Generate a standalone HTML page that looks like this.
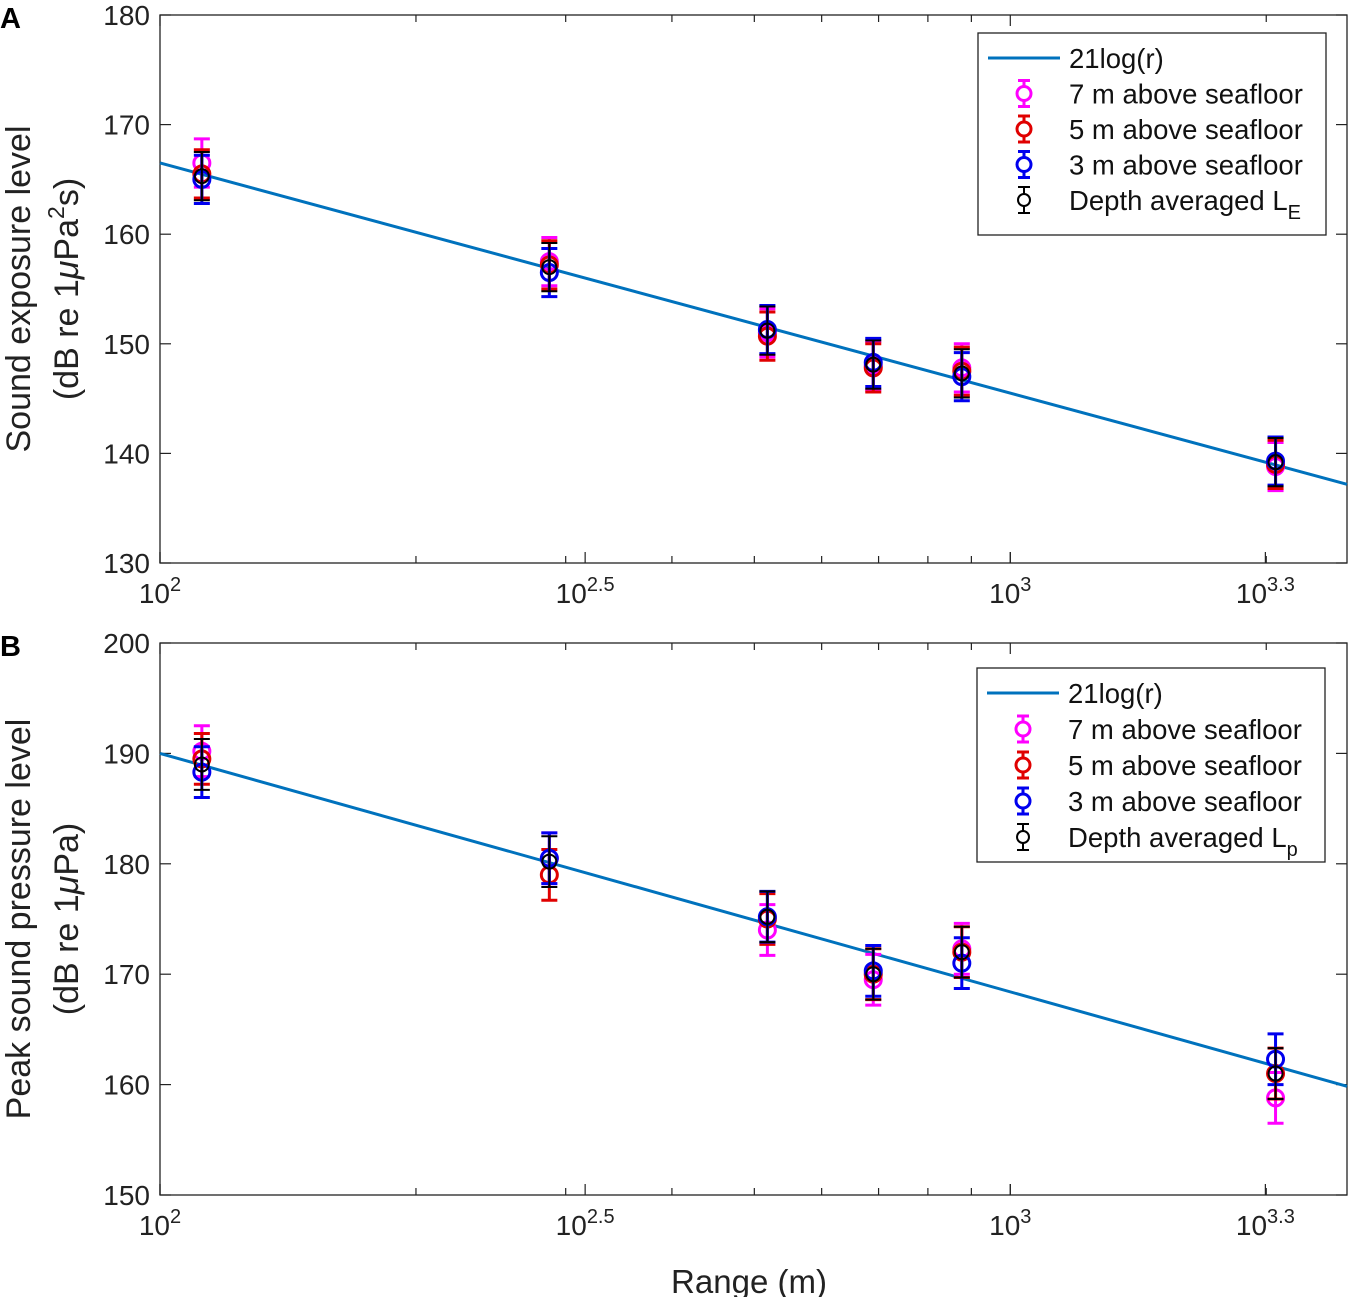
<!DOCTYPE html>
<html><head><meta charset="utf-8"><style>
body{margin:0;background:#fff;}
svg{display:block;font-family:"Liberation Sans",sans-serif;}
</style></head><body>
<svg id="fig" width="1350" height="1297" viewBox="0 0 1350 1297"></svg>
<script>
const rangesM=[112,287,518,690,877,2051];
const seriesNames=['7 m above seafloor','5 m above seafloor','3 m above seafloor'];
const seriesColors=['#ff00ff','#e00000','#0000ee','#000000'];
const aMag=[166.5,157.5,151,148,147.8,138.8];
const aRed=[165.5,157.2,150.7,147.8,147.5,139];
const aBlue=[165,156.5,151.3,148.3,147,139.3];
const aBlack=[165.3,157,151.2,148.1,147.3,139.2];
const bMag=[190.2,180.5,174,169.5,172.3,158.8];
const bRed=[189.5,179,175,170,172,161];
const bBlue=[188.3,180.5,175.2,170.3,171,162.3];
const bBlack=[189,180.2,175.2,170,172,161];
const errA=[2.2,2.2,2.2,2.2,2.2,2.2];
const errB=[2.3,2.3,2.3,2.3,2.3,2.3];
const aTicks=[130,140,150,160,170,180];
const bTicks=[150,160,170,180,190,200];
const xTickExp=['2','2.5','3','3.3'];
const fitA=[208.5,21];
const fitB=[233.2,21.6];
const NS='http://www.w3.org/2000/svg';
const svg=document.getElementById('fig');
function el(t,a,p){const e=document.createElementNS(NS,t);for(const k in a)e.setAttribute(k,a[k]);(p||svg).appendChild(e);return e;}
const X0=160,X1=1347,LMIN=2,LMAX=3.396;
const xs=r=>X0+(Math.log10(r)-LMIN)/(LMAX-LMIN)*(X1-X0);
function panel(cfg){
  const g=el('g',{});
  
  
  const ys=v=>cfg.bot-(v-cfg.ymin)/(cfg.ymax-cfg.ymin)*(cfg.bot-cfg.top);
  for(let d=100;d<=2000;d*=10)for(let m=1;m<10;m++){const r=d*m;if(Math.log10(r)>LMAX)continue;const x=xs(r);const L=(m==1)?11:7;
    el('line',{x1:x,x2:x,y1:cfg.bot,y2:cfg.bot-L,stroke:'#222','stroke-width':1.2},g);
    el('line',{x1:x,x2:x,y1:cfg.top,y2:cfg.top+L,stroke:'#222','stroke-width':1.2},g);}
  xTickExp.forEach(e=>{const x=xs(Math.pow(10,+e));
    const t=el('text',{x:x,y:cfg.bot+40,'text-anchor':'middle','font-size':28,fill:'#222'},g);
    
    t.textContent='10';const s=el('tspan',{dy:-12,'font-size':20},t);s.textContent=e;
    el('line',{x1:x,x2:x,y1:cfg.bot,y2:cfg.bot-11,stroke:'#222','stroke-width':1.2},g);});
  cfg.ticks.forEach(v=>{const y=ys(v);
    el('line',{x1:X0,x2:X0+11,y1:y,y2:y,stroke:'#222','stroke-width':1.2},g);
    el('line',{x1:X1,x2:X1-11,y1:y,y2:y,stroke:'#222','stroke-width':1.2},g);
    const t=el('text',{x:X0-10,y:y+10,'text-anchor':'end','font-size':28,fill:'#222'},g);
    t.textContent=v;});
  el('rect',{x:X0,y:cfg.top,width:X1-X0,height:cfg.bot-cfg.top,fill:'none',stroke:'#222','stroke-width':1.3},g);
  const fl=el('line',{x1:X0,x2:X1,y1:ys(cfg.fit[0]-cfg.fit[1]*LMIN),y2:ys(cfg.fit[0]-cfg.fit[1]*LMAX),stroke:'#0072bd','stroke-width':3},g);
  
  cfg.series.forEach((vals,si)=>{const c=seriesColors[si];const sw=si==3?2:3;const cap=8;
    vals.forEach((v,i)=>{const x=xs(rangesM[i]);const e=cfg.err[i];
      const gg=el('g',{},g);
      
      
      el('line',{x1:x,x2:x,y1:ys(v-e),y2:ys(v+e),stroke:c,'stroke-width':sw},gg);
      el('line',{x1:x-cap,x2:x+cap,y1:ys(v-e),y2:ys(v-e),stroke:c,'stroke-width':sw},gg);
      el('line',{x1:x-cap,x2:x+cap,y1:ys(v+e),y2:ys(v+e),stroke:c,'stroke-width':sw},gg);
      el('circle',{cx:x,cy:ys(v),r:si==3?7:8,fill:'none',stroke:c,'stroke-width':si==3?2:3},gg);});});
  const lg=el('g',{},g);
  el('rect',{x:cfg.lx,y:cfg.ly,width:348,height:cfg.lh,fill:'#fff',stroke:'#222','stroke-width':1.3},lg);
  const labels=['21log(r)',...seriesNames,'Depth averaged L'];
  labels.forEach((lab,i)=>{const y=cfg.ly+25+i*cfg.ls;
    if(i==0)el('line',{x1:cfg.lx+10,x2:cfg.lx+82,y1:y,y2:y,stroke:'#0072bd','stroke-width':3},lg);
    else{const c=seriesColors[i-1];const sw=i==4?2:3;const x=cfg.lx+46;
      el('line',{x1:x,x2:x,y1:y-13,y2:y+13,stroke:c,'stroke-width':sw},lg);
      el('line',{x1:x-6,x2:x+6,y1:y-13,y2:y-13,stroke:c,'stroke-width':sw},lg);
      el('line',{x1:x-6,x2:x+6,y1:y+13,y2:y+13,stroke:c,'stroke-width':sw},lg);
      el('circle',{cx:x,cy:y,r:i==4?6:7,fill:'#fff',stroke:c,'stroke-width':sw},lg);}
    const t=el('text',{x:cfg.lx+91,y:y+10,'font-size':27.5,fill:'#111'},lg);
    
    t.textContent=lab;if(i==4){const s=el('tspan',{dy:9,'font-size':20},t);s.textContent=cfg.sub;}});
  const cy=(cfg.top+cfg.bot)/2;
  const yt=el('text',{transform:`translate(${cfg.ytx},${cy}) rotate(-90)`,'text-anchor':'middle','font-size':34,fill:'#222'},g);
  yt.textContent=cfg.yt1;
  const yt2=el('text',{transform:`translate(${cfg.ytx+48},${cy}) rotate(-90)`,'text-anchor':'middle','font-size':34,fill:'#222'},g);
  
  cfg.yt2(yt2);
  const pl=el('text',{x:0,y:cfg.top+13,'font-size':29,'font-weight':'bold',fill:'#000'},g);
  pl.textContent=cfg.label;
}
panel({name:'panel-a',top:15,bot:563,ymin:130,ymax:180,ticks:aTicks,fit:fitA,series:[aMag,aRed,aBlue,aBlack],err:errA,
 lx:978,ly:33,lh:202,ls:35.5,sub:'E',ytx:30,yt1:'Sound exposure level',label:'A',
 yt2:t=>{t.appendChild(document.createTextNode('(dB re 1'));const m=el('tspan',{'font-style':'italic'},t);m.textContent='\u03bc';
   const p=el('tspan',{},t);p.textContent='Pa';const s=el('tspan',{dy:-14,'font-size':23},t);s.textContent='2';const q=el('tspan',{dy:14},t);q.textContent='s)';}});
panel({name:'panel-b',top:643,bot:1195,ymin:150,ymax:200,ticks:bTicks,fit:fitB,series:[bMag,bRed,bBlue,bBlack],err:errB,
 lx:977,ly:668,lh:194,ls:36,sub:'p',ytx:30,yt1:'Peak sound pressure level',label:'B',
 yt2:t=>{t.appendChild(document.createTextNode('(dB re 1'));const m=el('tspan',{'font-style':'italic'},t);m.textContent='\u03bc';
   const p=el('tspan',{},t);p.textContent='Pa)';}});
const xt=el('text',{x:749,y:1293,'text-anchor':'middle','font-size':33,fill:'#222'});
xt.textContent='Range (m)';
</script>
</body></html>
